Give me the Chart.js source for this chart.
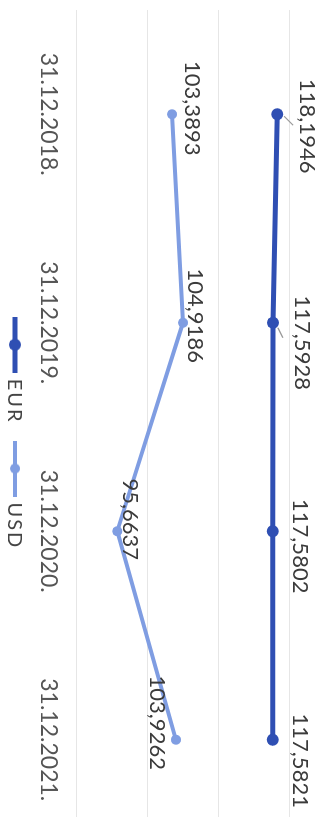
<!DOCTYPE html>
<html>
<head>
<meta charset="utf-8">
<script src="https://cdn.jsdelivr.net/npm/chart.js@4"></script>
<style>
    html,
    body {
        margin: 0;
        padding: 0;
        width: 330px;
        height: 817px;
        overflow: hidden;
        background: #fff;
    }
    /* chart is laid out landscape, then turned a quarter clockwise */
    #wrap {
        position: absolute;
        left: 0;
        top: 0;
        width: 850px;
        height: 330px;
        transform-origin: 0 0;
        transform: translateX(330px) rotate(90deg);
    }
</style>
</head>
<body>
<div id="wrap"><canvas id="rate-chart" width="850" height="330"></canvas></div>
<script>
const dates = ["31.12.2018.", "31.12.2019.", "31.12.2020.", "31.12.2021."];
const eurValues = [118.1946, 117.5928, 117.5802, 117.5821];
const usdValues = [103.3893, 104.9186, 95.6637, 103.9262];
const valueTicks = [90, 100, 110, 120];

const EUR_COLOR = "#2f4fb3";
const USD_COLOR = "#7f9de2";
const FONT = "Lato";

// where each value label sits relative to its point
const labelOffsets = {
    EUR: [[12, -30], [20, -29], [15, -27], [21, -27]],
    USD: [[-6, -20], [-7, -12], [-12, -13], [-17, 19]],
};
// short grey connectors drawn for the crowded EUR labels
const leaderLines = {
    EUR: [[2, -7, 11, -16], [5, -5, 15, -10], null, null],
    USD: [null, null, null, null],
};

function formatRate(v) {
    return v.toFixed(4).replace(".", ",");
}

// little line-with-dot swatch for the legend
function legendMarker(color, lineWidth, radius) {
    const c = document.createElement("canvas");
    c.width = 56;
    c.height = 16;
    const g = c.getContext("2d");
    g.strokeStyle = color;
    g.lineWidth = lineWidth;
    g.beginPath();
    g.moveTo(0, 8);
    g.lineTo(56, 8);
    g.stroke();
    g.fillStyle = color;
    g.beginPath();
    g.arc(28, 8, radius, 0, Math.PI * 2);
    g.fill();
    return c;
}

const markers = {
    EUR: legendMarker(EUR_COLOR, 5, 6),
    USD: legendMarker(USD_COLOR, 4, 5),
};

const pointLabels = {
    id: "pointLabels",
    afterDatasetsDraw(chart) {
        const ctx = chart.ctx;
        ctx.save();
        ctx.font = `22px ${FONT}`;
        ctx.fillStyle = "#3b3b3b";
        ctx.textAlign = "center";
        ctx.textBaseline = "middle";
        ctx.strokeStyle = "#9a9a9a";
        ctx.lineWidth = 1.2;
        chart.data.datasets.forEach((ds, di) => {
            const meta = chart.getDatasetMeta(di);
            meta.data.forEach((pt, i) => {
                const lead = leaderLines[ds.label][i];
                if (lead) {
                    ctx.beginPath();
                    ctx.moveTo(pt.x + lead[0], pt.y + lead[1]);
                    ctx.lineTo(pt.x + lead[2], pt.y + lead[3]);
                    ctx.stroke();
                }
                const [dx, dy] = labelOffsets[ds.label][i];
                ctx.fillText(formatRate(ds.data[i]), pt.x + dx, pt.y + dy);
            });
        });
        ctx.restore();
    },
};

// legend row under the axis labels: swatch, then series name
const lineLegend = {
    id: "lineLegend",
    afterDraw(chart) {
        const ctx = chart.ctx;
        const textGap = 6;
        const itemGap = 17;
        ctx.save();
        ctx.font = `20px ${FONT}`;
        ctx.letterSpacing = "2px";
        ctx.fillStyle = "#444";
        ctx.textBaseline = "middle";
        const items = chart.data.datasets.map((ds) => {
            const m = markers[ds.label];
            const tw = ctx.measureText(ds.label).width;
            return { text: ds.label, marker: m, width: m.width + textGap + tw };
        });
        const total =
            items.reduce((a, it) => a + it.width, 0) + itemGap * (items.length - 1);
        const area = chart.chartArea;
        let x = (area.left + area.right) / 2 - total / 2 + 6;
        const y = 315;
        items.forEach((it) => {
            ctx.drawImage(it.marker, x, y - it.marker.height / 2);
            ctx.fillText(it.text, x + it.marker.width + textGap, y + 1);
            x += it.width + itemGap;
        });
        ctx.restore();
    },
};

new Chart(document.getElementById("rate-chart"), {
    type: "line",
    data: {
        labels: dates,
        datasets: [
            {
                label: "EUR",
                data: eurValues,
                borderColor: EUR_COLOR,
                backgroundColor: EUR_COLOR,
                borderWidth: 5,
                pointRadius: 6,
                pointBorderWidth: 0,
                tension: 0,
            },
            {
                label: "USD",
                data: usdValues,
                borderColor: USD_COLOR,
                backgroundColor: USD_COLOR,
                borderWidth: 4,
                pointRadius: 5,
                pointBorderWidth: 0,
                tension: 0,
            },
        ],
    },
    options: {
        responsive: false,
        animation: false,
        layout: {
            padding: { left: 10, right: 0, top: 40, bottom: 0 },
        },
        scales: {
            x: {
                offset: true,
                grid: { display: false, drawTicks: false },
                border: { display: false },
                ticks: {
                    padding: 15,
                    color: "#555",
                    font: { family: FONT, size: 23 },
                    maxRotation: 0,
                },
                afterFit(scale) {
                    scale.height = 77;
                },
            },
            y: {
                min: valueTicks[0],
                max: valueTicks[valueTicks.length - 1],
                grid: { color: "#e6e6e6", lineWidth: 1, drawTicks: false },
                border: { display: false },
                ticks: { display: false, stepSize: 10 },
            },
        },
        plugins: {
            legend: { display: false },
            tooltip: { enabled: false },
        },
    },
    plugins: [pointLabels, lineLegend],
});
</script>
</body>
</html>
